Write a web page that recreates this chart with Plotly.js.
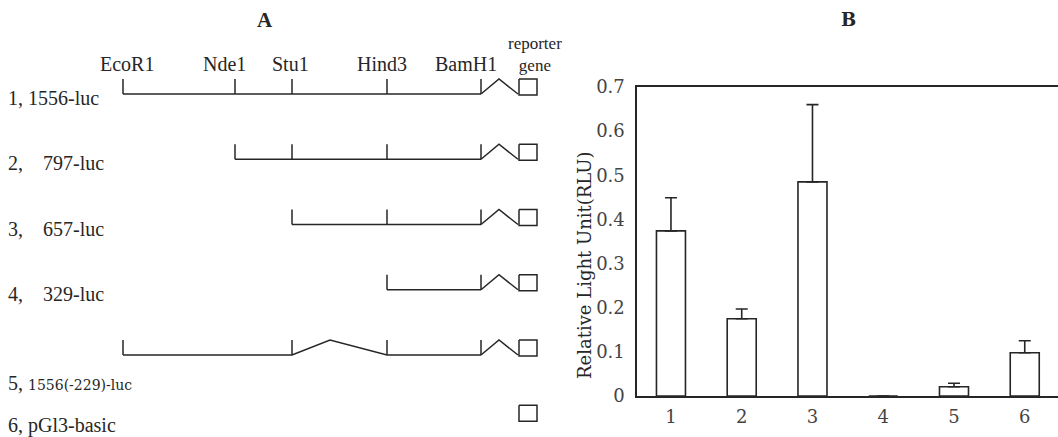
<!DOCTYPE html>
<html>
<head>
<meta charset="utf-8">
<script src="https://cdn.plot.ly/plotly-3.0.1.min.js"></script>
<style>html,body{margin:0;padding:0;background:#fff;}#chart{width:1058px;height:437px;}</style>
</head>
<body>
<div id="chart"></div>
<script>
// ---------- Panel A data (schematic of constructs) ----------
const sites = ["EcoR1", "Nde1", "Stu1", "Hind3", "BamH1"];
const sitePos = [123, 235, 292, 387, 481];           // diagram units along the promoter
const reporterLabel = ["reporter", "gene"];
const constructNums = ["1,", "2,", "3,", "4,", "5,", "6,"];
const constructNames = ["1556-luc", "797-luc", "657-luc", "329-luc", "1556(-229)-luc", "pGl3-basic"];
const constructSites = [[0,1,2,3,4], [1,2,3,4], [2,3,4], [3,4], [0,2,3,4], []];
const constructDeletion = [null, null, null, null, [2,3], null];

// ---------- Panel B data (luciferase activity) ----------
const lanes = ["1", "2", "3", "4", "5", "6"];
const rlu = [0.374, 0.175, 0.485, 0, 0.021, 0.098];
const rluErr = [0.075, 0.022, 0.175, 0, 0.008, 0.027];
const yTicks = [0, 0.1, 0.2, 0.3, 0.4, 0.5, 0.6, 0.7];

// ---------- layout constants ----------
const W = 1058, H = 437;
const ROW0 = 94, ROWSTEP = 65.25, TICKH = 15;
const INK = "#262626";
const serifA = "Liberation Serif, Times New Roman, serif";
const serifB = "DejaVu Serif, serif";

function rowY(i) { return ROW0 + ROWSTEP * i; }

const traces = [];

// Panel B bars
traces.push({
  type: "bar",
  x: lanes.map((l, i) => i + 1),
  y: rlu,
  width: 0.41,
  marker: { color: "#ffffff", line: { color: INK, width: 1.6 } },
  error_y: { type: "data", array: rluErr, arrayminus: rluErr.map(() => 0), symmetric: false,
             visible: true, color: INK, thickness: 1.6, width: 6 },
  xaxis: "x", yaxis: "y",
  showlegend: false, hoverinfo: "x+y"
});

// Panel A constructs
const bam = sitePos[sitePos.length - 1];
const zzPeakX = bam + 18, zzEndX = bam + 37;
const boxX0 = bam + 38, boxX1 = bam + 56;
constructSites.forEach((cs, i) => {
  const y = rowY(i);
  const xs = [], ys = [];
  if (cs.length) {
    const del = constructDeletion[i];
    if (del) {
      const a = sitePos[del[0]], b = sitePos[del[1]];
      const pk = a + 0.4 * (b - a);
      xs.push(sitePos[cs[0]], a, pk, b, bam, null);
      ys.push(y, y, y - TICKH, y, y, null);
    } else {
      xs.push(sitePos[cs[0]], bam, null);
      ys.push(y, y, null);
    }
    cs.forEach(s => { xs.push(sitePos[s], sitePos[s], null); ys.push(y, y - TICKH, null); });
    xs.push(bam, zzPeakX, zzEndX, null);
    ys.push(y, y - TICKH, y, null);
  }
  xs.push(boxX0, boxX1, boxX1, boxX0, boxX0);
  ys.push(y - TICKH, y - TICKH, y + 1, y + 1, y - TICKH);
  traces.push({
    type: "scatter", mode: "lines", x: xs, y: ys, xaxis: "x2", yaxis: "y2",
    line: { color: INK, width: 1.5 }, showlegend: false, hoverinfo: "skip"
  });
});

// ---------- annotations ----------
const ann = [];
ann.push({ xref: "x2", yref: "y2", x: 265, y: 20, text: "<b>A</b>", showarrow: false,
           font: { family: serifA, size: 21, color: INK } });
ann.push({ xref: "x2", yref: "y2", x: 848, y: 19, text: "<b>B</b>", showarrow: false,
           font: { family: serifB, size: 18, color: INK } });
const siteLabelX = [127, 224, 290, 382, 466];
sites.forEach((s, k) => {
  ann.push({ xref: "x2", yref: "y2", x: siteLabelX[k], y: 64, text: s, showarrow: false,
             font: { family: serifA, size: 20, color: INK } });
});
ann.push({ xref: "x2", yref: "y2", x: 535, y: 54, text: reporterLabel.join("<br>"), showarrow: false,
           font: { family: serifA, size: 17, color: INK } });
constructNums.forEach((n, i) => {
  const del = constructDeletion[i];
  let y = rowY(i) + 4;
  if (del) y = rowY(i) + 28;
  if (!constructSites[i].length) y = rowY(i) + 5;
  let txt;
  if (del) {
    txt = n + "\u00a0<span style=\"font-family:DejaVu Serif;font-size:14px\">" + constructNames[i] + "</span>";
  } else if (i >= 1 && i <= 3) {
    txt = n + "\u00a0\u00a0\u00a0\u00a0" + constructNames[i];
  } else {
    txt = n + "\u00a0" + constructNames[i];
  }
  ann.push({ xref: "x2", yref: "y2", x: 6, y: y, xanchor: "left", text: txt, showarrow: false,
             font: { family: serifA, size: 20, color: INK } });
});
ann.push({ xref: "x2", yref: "y2", x: 584, y: 265, text: "Relative Light Unit(RLU)", textangle: -90,
           showarrow: false, font: { family: serifB, size: 18, color: INK } });

const layout = {
  width: W, height: H,
  margin: { l: 0, r: 0, t: 0, b: 0, pad: 0 },
  paper_bgcolor: "#ffffff", plot_bgcolor: "rgba(0,0,0,0)",
  showlegend: false,
  xaxis: {
    domain: [637 / W, 1], range: [0.52, 6.47], anchor: "y",
    tickvals: lanes.map((l, i) => i + 1), ticktext: lanes,
    showline: true, mirror: true, linecolor: INK, linewidth: 1.6,
    showgrid: false, zeroline: false, ticks: "", ticklabelstandoff: 4,
    tickfont: { family: serifB, size: 18, color: "#444" }, fixedrange: true
  },
  yaxis: {
    domain: [(H - 396) / H, (H - 87) / H], range: [0, 0.7], anchor: "x",
    tickvals: yTicks, ticktext: yTicks.map(v => v === 0 ? "0" : v.toFixed(1)),
    showline: true, mirror: true, linecolor: INK, linewidth: 1.6,
    showgrid: false, zeroline: false, ticks: "", ticklabelstandoff: 7,
    tickfont: { family: serifB, size: 18, color: "#444" }, fixedrange: true
  },
  xaxis2: { domain: [0, 1], range: [0, W], visible: false, anchor: "y2", fixedrange: true },
  yaxis2: { domain: [0, 1], range: [H, 0], visible: false, anchor: "x2", fixedrange: true },
  annotations: ann
};

Plotly.newPlot("chart", traces, layout, { displayModeBar: false, staticPlot: true });
</script>
</body>
</html>
